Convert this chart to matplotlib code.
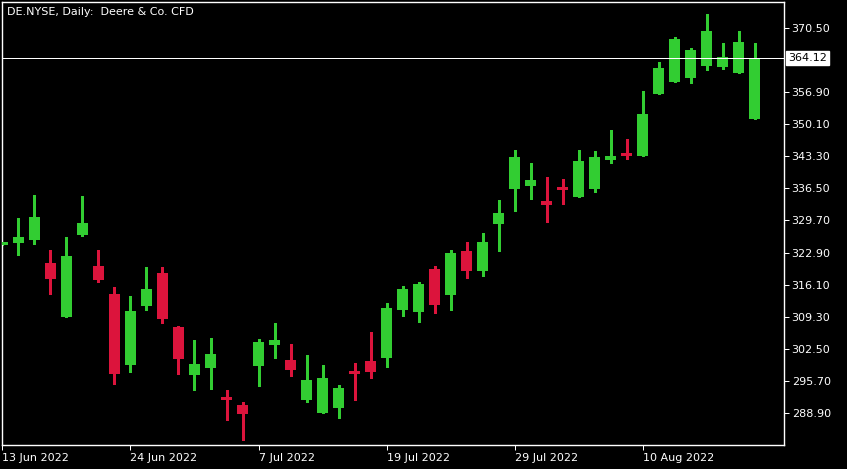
import numpy as np
import matplotlib.pyplot as plt

# daily candles, 13 Jun 2022 .. 19 Aug 2022 (trading days only)
opens = [324.5, 324.9, 325.6, 320.7, 309.3, 326.6, 320.1, 314.1, 299.1, 311.6,
         318.6, 307.1, 297.0, 298.4, 292.3, 290.6, 298.9, 303.3, 300.1, 291.7,
         288.9, 290.0, 297.6, 299.9, 300.6, 310.7, 310.3, 319.4, 313.9, 323.2,
         319.0, 329.0, 336.4, 337.0, 333.8, 336.6, 334.7, 336.4, 342.5, 344.0,
         343.4, 356.5, 359.1, 359.9, 362.5, 362.2, 361.0, 351.2]
highs = [325.0, 330.2, 335.1, 323.5, 326.2, 334.9, 323.5, 315.6, 313.7, 319.9,
         319.9, 307.3, 304.4, 304.8, 293.8, 291.2, 304.6, 308.0, 303.5, 301.2,
         299.1, 294.8, 299.5, 306.1, 312.2, 315.8, 316.7, 320.1, 323.5, 325.1,
         327.1, 334.1, 344.6, 341.9, 338.9, 338.5, 344.6, 344.4, 348.9, 347.0,
         357.2, 363.3, 368.6, 366.3, 373.5, 367.3, 369.9, 367.3]
lows = [324.4, 322.4, 324.7, 314.1, 309.3, 326.4, 316.7, 295.1, 297.6, 310.7,
        308.0, 297.2, 293.8, 294.0, 287.4, 283.2, 294.6, 300.6, 296.7, 291.2,
        288.9, 287.8, 291.7, 296.3, 298.7, 309.5, 308.2, 310.1, 310.7, 317.5,
        317.9, 323.2, 331.7, 334.3, 329.4, 333.2, 334.7, 335.7, 341.9, 342.7,
        343.4, 356.5, 359.1, 358.8, 361.6, 361.8, 361.0, 351.2]
closes = [324.9, 326.2, 330.4, 317.3, 322.2, 329.2, 317.1, 297.2, 310.5, 315.2,
          308.8, 300.4, 299.3, 301.4, 291.7, 288.7, 304.0, 304.4, 298.0, 295.9,
          296.3, 294.2, 297.2, 297.6, 311.2, 315.2, 316.2, 311.8, 322.8, 319.0,
          325.1, 331.3, 343.2, 338.3, 333.0, 336.2, 342.3, 343.2, 343.4, 343.4,
          352.3, 362.0, 368.2, 365.8, 369.9, 364.4, 367.5, 364.12]

date_ticks = [0, 8, 16, 24, 32, 40]
date_labels = ["13 Jun 2022", "24 Jun 2022", "7 Jul 2022",
               "19 Jul 2022", "29 Jul 2022", "10 Aug 2022"]
price_ticks = [288.90, 295.70, 302.50, 309.30, 316.10, 322.90, 329.70,
               336.50, 343.30, 350.10, 356.90, 370.50]
last_price = 364.12

UP = "#32cd32"
DOWN = "#dc143c"
PX = 0.72  # one pixel in points at 100 dpi


def main():
    fig = plt.figure(figsize=(8.47, 4.69), dpi=100, facecolor="black")
    W, H = 847, 469
    ax = fig.add_axes([2 / W, 1 - 445 / H, 782 / W, 443 / H], facecolor="black")

    x = np.arange(len(opens))
    o = np.array(opens)
    c = np.array(closes)
    colors = [UP if cc >= oo else DOWN for oo, cc in zip(o, c)]

    # wicks then bodies
    ax.vlines(x, lows, highs, colors=colors, linewidth=PX * 1.2, antialiased=False, zorder=2)
    bottoms = np.minimum(o, c)
    heights = np.maximum(np.abs(c - o), 0.6)
    ax.bar(x, heights, bottom=bottoms, width=0.69, color=colors,
           linewidth=0, antialiased=False, zorder=3)

    ax.axhline(last_price, color="white", linewidth=PX, antialiased=False, zorder=4)

    ax.set_xlim(-0.03, 48.84)
    ax.set_ylim(282.12, 376.0)

    for s in ax.spines.values():
        s.set_color("white")
        s.set_linewidth(PX * 1.4)

    ax.set_xticks(date_ticks)
    ax.set_xticklabels(date_labels, ha="left")
    ax.yaxis.tick_right()
    ax.set_yticks(price_ticks)
    ax.set_yticklabels([f"{p:.2f}" for p in price_ticks])
    ax.tick_params(axis="both", colors="white", labelsize=8, length=3.5, width=PX)
    ax.tick_params(axis="x", pad=2)
    ax.tick_params(axis="y", pad=2)

    # current price tag on the axis
    ax.text(1.005, last_price, f"{last_price:.2f}", transform=ax.get_yaxis_transform(),
            ha="left", va="center", fontsize=8, color="black", zorder=5, clip_on=False,
            bbox=dict(boxstyle="square,pad=0.2", facecolor="white", edgecolor="white"))

    fig.text(7 / W, 1 - 12 / H, "DE.NYSE, Daily:  Deere & Co. CFD", color="white",
             fontsize=8, ha="left", va="center")

    fig.savefig("out.png", dpi=100, facecolor="black")


if __name__ == "__main__": main()
